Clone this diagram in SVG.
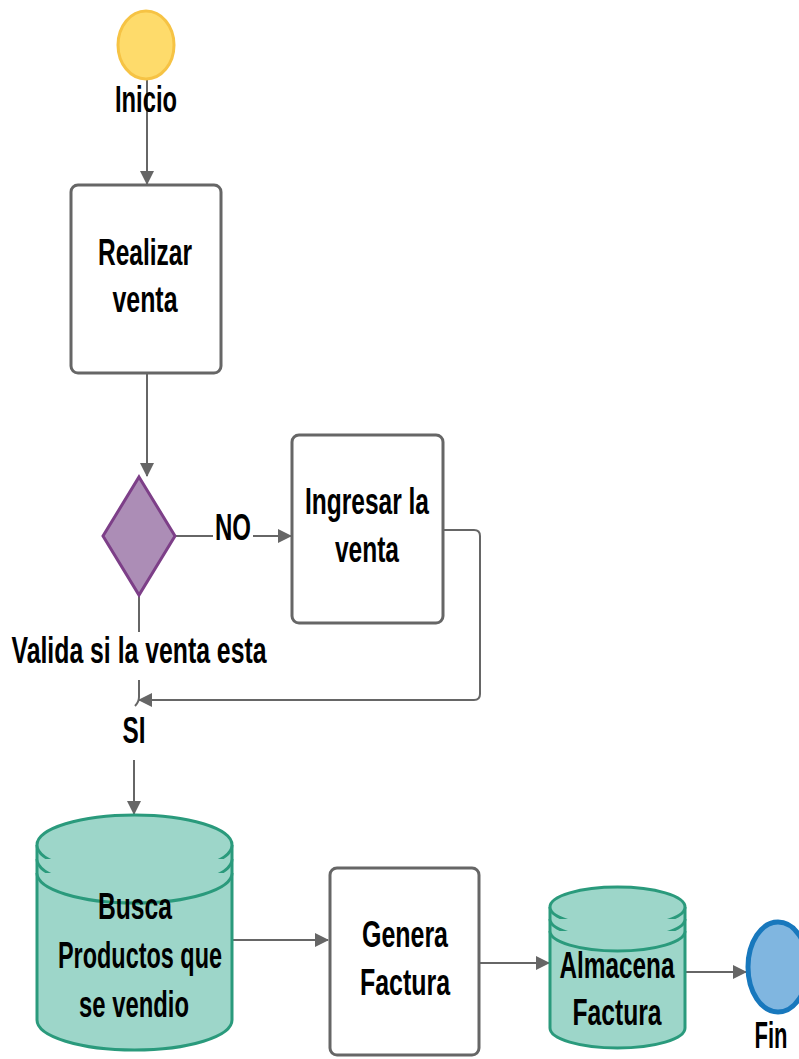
<svg xmlns="http://www.w3.org/2000/svg" width="799" height="1059" viewBox="0 0 799 1059">
<style>
.t{font-family:"Liberation Sans",Arial,sans-serif;font-weight:bold;font-size:36px;fill:#000;text-anchor:middle}
.box{fill:#fff;stroke:#666;stroke-width:3}
.cyl{fill:#9dd6c9;stroke:#2a9a7c;stroke-width:3}
.ln{fill:none;stroke:#666;stroke-width:2}
</style>
<defs>
<marker id="ah" markerUnits="userSpaceOnUse" markerWidth="14" markerHeight="14" viewBox="0 0 14 14" refX="13" refY="7" orient="auto">
<path d="M0,0 L14,7 L0,14 Z" fill="#666"/>
</marker>
</defs>
<rect width="799" height="1059" fill="#fff"/>
<g id="connectors">
<path class="ln" d="M147,80 V184" marker-end="url(#ah)"/>
<path class="ln" d="M147,373 V476" marker-end="url(#ah)"/>
<path class="ln" d="M175,536 H213"/>
<path class="ln" d="M253,536 H291" marker-end="url(#ah)"/>
<path class="ln" d="M443,530 H474 Q480,530 480,536 V694 Q480,700 474,700 H139" marker-end="url(#ah)"/>
<path class="ln" d="M139,595 V632"/>
<path class="ln" d="M139,680 V697 Q139,702 135,706"/>
<path class="ln" d="M134,760 V814" marker-end="url(#ah)"/>
<path class="ln" d="M232,940 H328" marker-end="url(#ah)"/>
<path class="ln" d="M479,963 H549" marker-end="url(#ah)"/>
<path class="ln" d="M685,972 H746" marker-end="url(#ah)"/>
</g>
<g id="inicio">
<ellipse cx="146" cy="45" rx="28" ry="34" fill="#fedb6b" stroke="#f6c344" stroke-width="3"/>
<text class="t" x="146" y="112" font-size="34" textLength="62" lengthAdjust="spacingAndGlyphs">Inicio</text>
</g>
<g id="realizar">
<rect class="box" x="71" y="185" width="150" height="188" rx="7"/>
<text class="t" x="145" y="265" font-size="37" textLength="94" lengthAdjust="spacingAndGlyphs">Realizar</text>
<text class="t" x="145" y="312" font-size="37" textLength="65" lengthAdjust="spacingAndGlyphs">venta</text>
</g>
<g id="decision">
<path d="M139,477 L175,536 L139,595 L103,536 Z" fill="#ac8db6" stroke="#7d3f88" stroke-width="3"/>
</g>
<g id="label-no">
<text class="t" x="233" y="540" font-size="35" textLength="36" lengthAdjust="spacingAndGlyphs">NO</text>
</g>
<g id="ingresar">
<rect class="box" x="292" y="435" width="151" height="188" rx="7"/>
<text class="t" x="367" y="514" font-size="35" textLength="124" lengthAdjust="spacingAndGlyphs">Ingresar la</text>
<text class="t" x="367" y="562" font-size="35" textLength="64" lengthAdjust="spacingAndGlyphs">venta</text>
</g>
<g id="label-valida">
<text class="t" x="139" y="663" font-size="33" textLength="255" lengthAdjust="spacingAndGlyphs">Valida si la venta esta</text>
</g>
<g id="label-si">
<text class="t" x="134" y="743" font-size="35" textLength="23" lengthAdjust="spacingAndGlyphs">SI</text>
</g>
<g id="busca">
<path class="cyl" d="M37,845 A97.5,30 0 0 1 232,845 V1020 A97.5,30 0 0 1 37,1020 Z"/>
<path class="cyl" fill="none" d="M37,845 A97.5,30 0 0 0 232,845"/>
<path class="cyl" fill="none" d="M37,859 A97.5,30 0 0 0 232,859"/>
<path class="cyl" fill="none" d="M37,873 A97.5,30 0 0 0 232,873"/>
<text class="t" x="135" y="919" font-size="35" textLength="74" lengthAdjust="spacingAndGlyphs">Busca</text>
<text class="t" x="140" y="968" font-size="35" textLength="164" lengthAdjust="spacingAndGlyphs">Productos que</text>
<text class="t" x="134" y="1017" font-size="35" textLength="110" lengthAdjust="spacingAndGlyphs">se vendio</text>
</g>
<g id="genera">
<rect class="box" x="330" y="868" width="149" height="187" rx="7"/>
<text class="t" x="405" y="947" font-size="35" textLength="86" lengthAdjust="spacingAndGlyphs">Genera</text>
<text class="t" x="405" y="995" font-size="35" textLength="90" lengthAdjust="spacingAndGlyphs">Factura</text>
</g>
<g id="almacena">
<path class="cyl" d="M550,907 A67.5,20 0 0 1 685,907 V1028 A67.5,20 0 0 1 550,1028 Z"/>
<path class="cyl" fill="none" d="M550,907 A67.5,20 0 0 0 685,907"/>
<path class="cyl" fill="none" d="M550,919 A67.5,20 0 0 0 685,919"/>
<path class="cyl" fill="none" d="M550,931 A67.5,20 0 0 0 685,931"/>
<text class="t" x="617" y="978" font-size="35" textLength="115" lengthAdjust="spacingAndGlyphs">Almacena</text>
<text class="t" x="617" y="1025" font-size="35" textLength="89" lengthAdjust="spacingAndGlyphs">Factura</text>
</g>
<g id="fin">
<ellipse cx="778" cy="967" rx="30" ry="45" fill="#80b6e0" stroke="#1878bd" stroke-width="5"/>
<text class="t" x="771" y="1048" font-size="33" textLength="33" lengthAdjust="spacingAndGlyphs">Fin</text>
</g>
</svg>
